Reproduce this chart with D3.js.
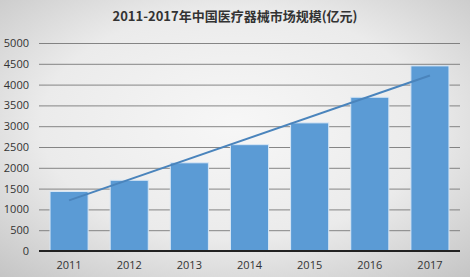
<!DOCTYPE html>
<html><head><meta charset="utf-8">
<script src="https://cdn.jsdelivr.net/npm/d3@7"></script>
<style>body{margin:0;}svg{display:block;}</style>
</head><body>
<script>
const years = ["2011","2012","2013","2014","2015","2016","2017"];
const marketSize = [1430, 1700, 2120, 2556, 3080, 3696, 4450];
const yTicks = [0,500,1000,1500,2000,2500,3000,3500,4000,4500,5000];
const title = "2011-2017年中国医疗器械市场规模(亿元)";

const W = 470, H = 277;
const m = {left: 39, right: 10, top: 43, bottom: 26};
const svg = d3.select("body").append("svg").attr("width", W).attr("height", H);
const defs = svg.append("defs");
const g1 = defs.append("radialGradient").attr("id","bg").attr("cx","50%").attr("cy","45%").attr("r","75%");
g1.append("stop").attr("offset","0%").attr("stop-color","#f7f7f7");
g1.append("stop").attr("offset","55%").attr("stop-color","#ebebeb");
g1.append("stop").attr("offset","100%").attr("stop-color","#c4c4c4");
svg.append("rect").attr("width",W).attr("height",H).attr("fill","url(#bg)");

const x = d3.scaleBand().domain(years).range([m.left, W - m.right]).paddingInner(0.4).paddingOuter(0.2);
const y = d3.scaleLinear().domain([0,5000]).range([H - m.bottom, m.top]);

svg.append("text").attr("x", 235).attr("y", 21).attr("text-anchor","middle")
  .attr("font-family","'Noto Sans CJK SC', sans-serif").attr("font-weight","bold")
  .attr("font-size",13).attr("fill","#333").text(title);

// grid
const yAxis = d3.axisLeft(y).tickValues(yTicks).tickFormat(d3.format("d")).tickSize(-(W - m.right - m.left)).tickPadding(10);
const ga = svg.append("g").attr("transform",`translate(${m.left},0)`).call(yAxis);
ga.select(".domain").remove();
ga.selectAll(".tick line").attr("stroke","#6a6a6a").attr("stroke-width",0.8);
ga.selectAll(".tick text").attr("font-family","'Open Sans', Arial, sans-serif").attr("font-size",11).attr("fill","#333");

// bars
svg.append("g").selectAll("rect").data(marketSize).join("rect")
  .attr("x",(d,i)=>x(years[i]) - 1).attr("width", x.bandwidth() + 2)
  .attr("y", d=>y(d)).attr("height", d=>y(0)-y(d))
  .attr("fill","#5b9bd5").attr("stroke","#d7e6f5").attr("stroke-width",1);

// baseline
svg.append("line").attr("x1",m.left).attr("x2",W-m.right).attr("y1",y(0)).attr("y2",y(0))
  .attr("stroke","#222").attr("stroke-width",2);

// x labels
const xAxis = d3.axisBottom(x).tickSize(0).tickPadding(10);
const gx = svg.append("g").attr("transform",`translate(0,${y(0)})`).call(xAxis);
gx.select(".domain").remove();
gx.selectAll(".tick text").attr("font-family","'Open Sans', Arial, sans-serif").attr("font-size",11).attr("fill","#333");

// linear trendline (least squares of the series)
const n = marketSize.length;
const xs = d3.range(1, n+1);
const mx = d3.mean(xs), my = d3.mean(marketSize);
const slope = d3.sum(xs.map((v,i)=>(v-mx)*(marketSize[i]-my))) / d3.sum(xs.map(v=>(v-mx)*(v-mx)));
const icpt = my - slope*mx;
const trend = [0, n-1].map(i => ({yr: years[i], v: icpt + slope*xs[i]}));
svg.append("path").datum(trend)
  .attr("d", d3.line().x(d=>x(d.yr)+x.bandwidth()/2).y(d=>y(d.v)))
  .attr("fill","none").attr("stroke","#4a84bc").attr("stroke-width",2);
</script>
</body></html>
